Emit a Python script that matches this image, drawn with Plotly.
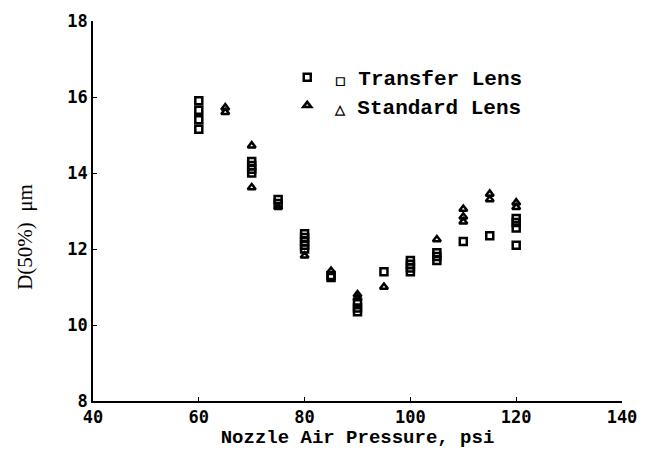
import plotly.graph_objects as go

# Transfer Lens (squares)
tl_x = [60, 60, 60, 60, 70, 70, 70, 70, 75, 75, 80, 80, 80, 80, 80, 85, 85,
        90, 90, 90, 95, 100, 100, 100, 100, 105, 105, 105, 110, 115, 120, 120, 120, 120]
tl_y = [15.15, 15.4, 15.65, 15.9, 14.0, 14.1, 14.2, 14.3, 13.2, 13.3, 12.0, 12.1, 12.2, 12.3, 12.4,
        11.25, 11.3, 10.6, 10.45, 10.35, 11.4, 11.4, 11.5, 11.6, 11.7, 11.7, 11.8, 11.9,
        12.2, 12.35, 12.8, 12.7, 12.55, 12.1]

# Standard Lens (triangles)
sl_x = [65, 65, 70, 70, 75, 80, 85, 90, 90, 95, 105, 110, 110, 110, 115, 115, 120, 120]
sl_y = [15.6, 15.72, 14.72, 13.62, 13.1, 11.82, 11.42, 10.8, 10.7, 11.0, 12.25,
        13.05, 12.85, 12.72, 13.45, 13.3, 13.22, 13.1]

x_ticks = [40, 60, 80, 100, 120, 140]
y_ticks = [8, 10, 12, 14, 16, 18]

tick_font = dict(family="DejaVu Sans Mono", size=17, color="black")
mono = "Liberation Mono"
legend_style = dict(xanchor="left", yanchor="top",
                    font=dict(family=mono, size=21, color="black", weight="bold"),
                    bgcolor="rgba(0,0,0,0)", itemwidth=45)

fig = go.Figure()
fig.add_trace(go.Scatter(
    x=tl_x, y=tl_y, mode="markers", legend="legend",
    name="<span style='font-size:13px'>\u25fb</span> Transfer Lens",
    marker=dict(symbol="square-open", size=7, color="black", line=dict(width=2.5, color="black")),
))
fig.add_trace(go.Scatter(
    x=sl_x, y=sl_y, mode="markers", legend="legend2",
    name="<span style='font-size:13px'>\u25b3</span> Standard Lens",
    marker=dict(symbol="triangle-up-open", size=7, color="black", line=dict(width=2.5, color="black")),
))

fig.update_layout(
    width=645, height=444,
    margin=dict(l=85, r=31, t=13, b=51),
    plot_bgcolor="white", paper_bgcolor="white",
    showlegend=True,
    legend=dict(x=0.353, y=0.905, **legend_style),
    legend2=dict(x=0.353, y=0.831, **legend_style),
    xaxis=dict(range=[40, 140], tickvals=x_ticks, ticktext=[f"<b>{v}</b>" for v in x_ticks],
               ticks="inside", ticklen=4, tickcolor="black", showgrid=False, zeroline=False,
               showline=True, linecolor="black", linewidth=1.5, tickfont=tick_font,
               automargin=False,
               title=dict(text="<b>Nozzle Air Pressure, psi</b>",
                          font=dict(family=mono, size=19, color="black"), standoff=4)),
    yaxis=dict(range=[8, 18], tickvals=y_ticks, ticktext=[f"<b>{v}</b>" for v in y_ticks],
               ticks="inside", ticklen=4, tickcolor="black", showgrid=False, zeroline=False,
               showline=True, linecolor="black", linewidth=1.5, tickfont=tick_font,
               automargin=False),
    annotations=[dict(text="D(50%)  \u03bcm", textangle=-90, xref="paper", yref="paper",
                      x=-0.1285, y=0.432, xanchor="center", yanchor="middle", showarrow=False,
                      font=dict(family="Liberation Serif", size=21, color="black"))],
)

fig.write_html("out.html")
